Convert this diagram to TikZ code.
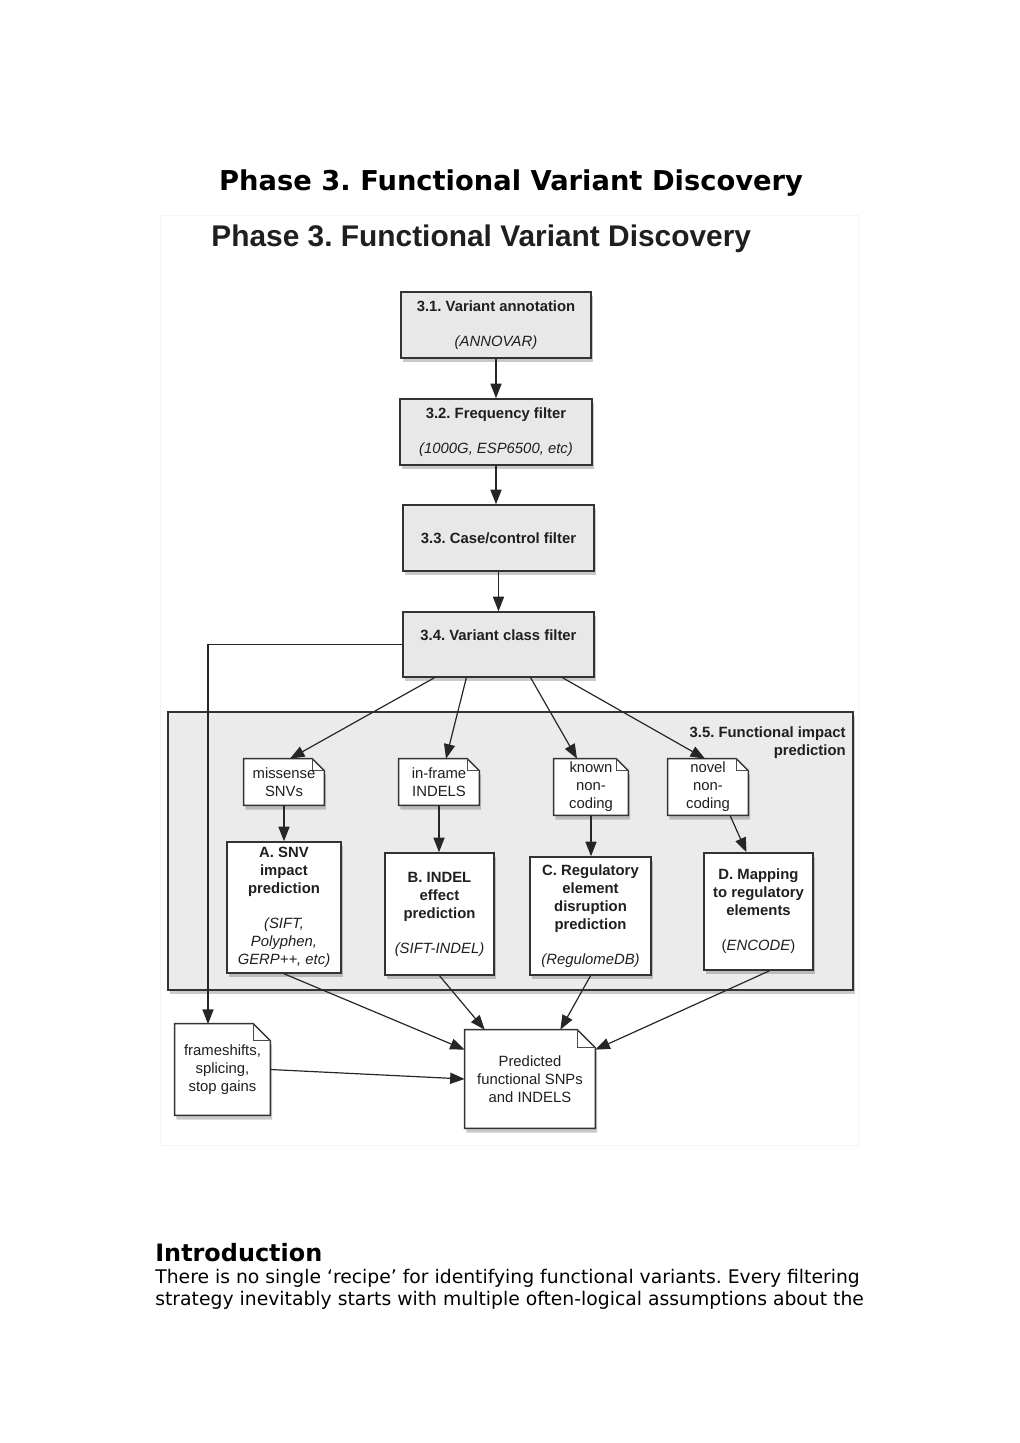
\documentclass[tikz,border=0pt]{standalone}
\usepackage{fontspec}
\setmainfont{DejaVu Sans}
\newfontfamily\figfont{Liberation Sans}
\usetikzlibrary{arrows.meta,positioning,calc,shadows}
\frenchspacing
\newdimen\px \px=0.02059cm
\newcommand{\ff}{\figfont\fontsize{8.7}{10.5}\selectfont}
\pgfdeclarelayer{back}
\pgfdeclarelayer{docs}
\pgfsetlayers{back,docs,main}

\begin{document}
\begin{tikzpicture}[
 x=\px, y=-\px,
 fig/.style={font=\ff, text=black!88},
 stepbox/.style={fig, draw=black!80, line width=0.9pt, fill=black!9, align=center, inner sep=0pt,
                 drop shadow={shadow xshift=1pt, shadow yshift=-2.5pt, opacity=0.3, fill=black!70}},
 toolbox/.style={stepbox, fill=white},
 doc/.style={fig, align=center, inner sep=0pt},
 docline/.style={draw=black!80, line width=0.8pt, fill=white,
                 drop shadow={shadow xshift=1pt, shadow yshift=-2.5pt, opacity=0.3, fill=black!70}},
 docfold/.style={draw=black!70, line width=0.5pt},
 arrow/.style={-{Triangle[length=8.5pt,width=6.5pt]}, line width=0.7pt, draw=black!85},
 pagetext/.style={anchor=base west, inner sep=0pt}
]
\useasboundingbox (0,0) rectangle (1020,1443);

% page heading and figure frame
\node[font=\fontsize{16}{19}\selectfont\bfseries, anchor=base, inner sep=0pt] (pagetitle) at (511,191) {Phase 3. Functional Variant Discovery};
\draw[black!4] (160,215) rectangle (858,1145);
\node[font=\figfont\bfseries\fontsize{17.5}{21}\selectfont, text=black!88, anchor=base west, inner sep=0pt] (figtitle) at (211,247) {Phase 3. Functional Variant Discovery};

% filter chain
\node[stepbox, minimum width=190\px, minimum height=66\px] (b31) at (496,325) {\textbf{3.1. Variant annotation}\\[10pt]\textit{(ANNOVAR)}};
\node[stepbox, minimum width=192\px, minimum height=66\px] (b32) at (496,432) {\textbf{3.2. Frequency filter}\\[10pt]\textit{(1000G, ESP6500, etc)}};
\node[stepbox, minimum width=191\px, minimum height=66\px] (b33) at (498.5,538) {\textbf{3.3. Case/control filter}};
\node[stepbox, minimum width=191\px, minimum height=65\px, text height=7pt, text depth=12pt] (b34) at (498.5,644.5) {\textbf{3.4. Variant class filter}};

% functional impact prediction
\begin{pgfonlayer}{back}
\node[stepbox, fill=black!8, minimum width=685\px, minimum height=278\px] (c35) at (510.5,851) {};
\end{pgfonlayer}
\node[font=\figfont\bfseries\fontsize{8.7}{10.5}\selectfont, text=black!88, align=right, anchor=north east, inner sep=0pt] (c35lab) at (846,726) {3.5. Functional impact\\prediction};

\node[doc, minimum width=80\px, minimum height=46\px] (dMis) at (284,782) {missense\\SNVs};
\node[doc, minimum width=80\px, minimum height=46\px] (dInf) at (439,782) {in-frame\\INDELS};
\node[doc, minimum width=74\px, minimum height=56\px] (dKnw) at (591,787) {known\\non-\\coding};
\node[doc, minimum width=80\px, minimum height=56\px] (dNov) at (708,787) {novel\\non-\\coding};

\node[toolbox, minimum width=114\px, minimum height=131\px] (A) at (284,907.5) {\textbf{A. SNV}\\\textbf{impact}\\\textbf{prediction}\\[10pt]\textit{(SIFT,}\\\textit{Polyphen,}\\\textit{GERP++, etc)}};
\node[toolbox, minimum width=109\px, minimum height=122\px] (B) at (439.5,914) {\textbf{B. INDEL}\\\textbf{effect}\\\textbf{prediction}\\[10pt]\textit{(SIFT-INDEL)}};
\node[toolbox, minimum width=121\px, minimum height=118\px] (C) at (590.5,916) {\textbf{C. Regulatory}\\\textbf{element}\\\textbf{disruption}\\\textbf{prediction}\\[10pt]\textit{(RegulomeDB)}};
\node[toolbox, minimum width=109\px, minimum height=117\px] (D) at (758.5,911.5) {\textbf{D. Mapping}\\\textbf{to regulatory}\\\textbf{elements}\\[10pt](\textit{ENCODE})};

% outputs
\node[doc, minimum width=95\px, minimum height=91\px] (fra) at (222.5,1069.5) {frameshifts,\\splicing,\\stop gains};
\node[doc, minimum width=130\px, minimum height=98\px] (pred) at (530,1079) {Predicted\\functional SNPs\\and INDELS};
\coordinate (fraTop) at (208,1024);

% document outlines
\begin{pgfonlayer}{docs}
\foreach \n/\f in {dMis/12,dInf/12,dKnw/12,dNov/12,fra/17,pred/18}{
  \draw[docline] (\n.north west) -- ($(\n.north east)+(-\f,0)$) -- ($(\n.north east)+(0,\f)$) -- (\n.south east) -- (\n.south west) -- cycle;
  \draw[docfold] ($(\n.north east)+(-\f,0)$) |- ($(\n.north east)+(0,\f)$);
}
\end{pgfonlayer}

% connectors
\draw[arrow] (b31) -- (b32);
\draw[arrow] (b32.south) -- (b32.south |- b33.north);
\draw[arrow] (b33) -- (b34);
\draw[arrow] (b34.west) -| (fraTop);
\foreach \f/\t/\dx in {0.167/dMis/6,0.333/dInf/7,0.667/dKnw/-14,0.833/dNov/-3}
  \draw[arrow] ($(b34.south west)!\f!(b34.south east)$) -- ($(\t.north)+(\dx,0)$);
\draw[arrow] (dMis.south) -- (dMis.south |- A.north);
\draw[arrow] (dInf.south) -- (dInf.south |- B.north);
\draw[arrow] (dKnw.south) -- (dKnw.south |- C.north);
\draw[arrow] ($(dNov.south)+(22,0)$) -- ($(D.north)+(-12,0)$);
\draw[arrow] (A.south) -- ($(pred.north west)+(0,20)$);
\draw[arrow] (B.south) -- ($(pred.north west)+(20,0)$);
\draw[arrow] (C.south) -- ($(pred.north east)+(-35,0)$);
\draw[arrow] ($(D.south)+(11,0)$) -- ($(pred.north east)+(0,20)$);
\draw[arrow] (fra.east) -- (pred.west);

% text below the figure
\node[pagetext, font=\fontsize{14}{17}\selectfont\bfseries] (intro) at (155,1261) {Introduction};
\node[pagetext, font=\fontsize{11}{12.9}\selectfont] (para1) at (155,1283) {There is no single ‘recipe’ for identifying functional variants. Every filtering};
\node[pagetext, font=\fontsize{11}{12.9}\selectfont] (para2) at (155,1305) {strategy inevitably starts with multiple often-logical assumptions about the};
\end{tikzpicture}
\end{document}
